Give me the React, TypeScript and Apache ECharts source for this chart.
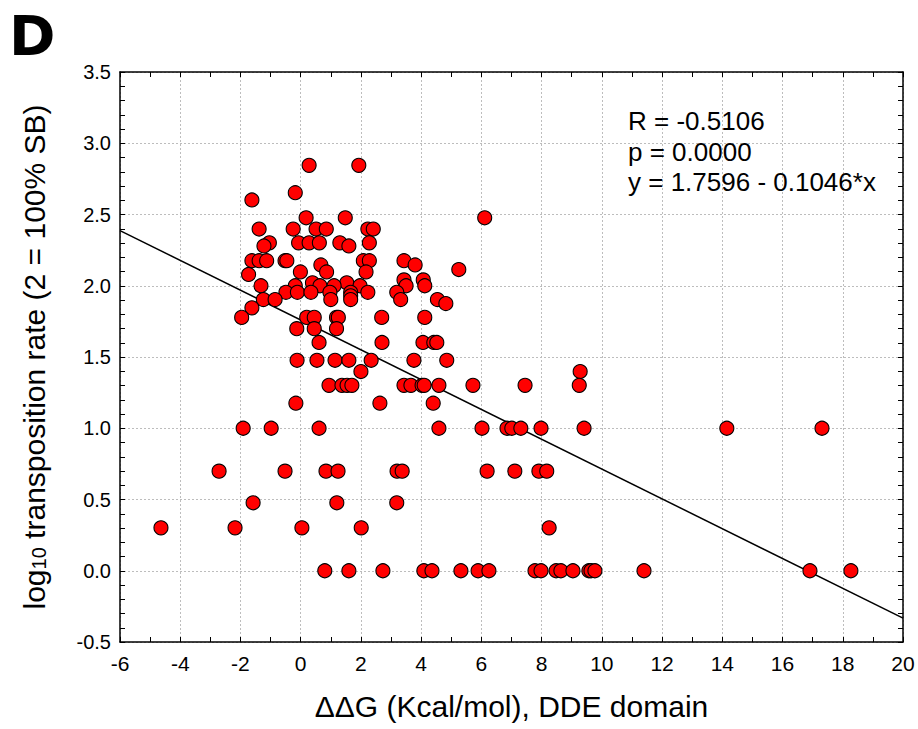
import React, { useEffect, useRef } from "react";
import * as echarts from "echarts";

// ΔΔG (kcal/mol) values, grouped by transposition-rate level
const ddG: number[] = [
  0.28, 1.93,
  -0.18,
  -1.62,
  0.18, 1.48, 6.11,
  -1.38, -0.25, 0.51, 0.85, 2.23, 2.41,
  -1.04, -0.07, 0.28, 0.62, 1.30, 2.28,
  -1.22, 1.60,
  -1.62, -1.38, -1.13, -0.52, -0.46, 2.08, 2.28, 3.43,
  3.80, 0.67,
  5.25,
  0.86, -0.01, 2.17,
  -1.73,
  3.43, 4.07,
  0.39, 1.53,
  -1.32, -0.18, 0.64, 1.11, 1.97, 3.50, 4.12,
  -0.49, -0.11, 0.34, 0.97, 1.66, 2.23, 3.19,
  1.66,
  1.00, 1.66, -1.24, -0.85, 3.32, 4.54,
  4.82,
  -1.62,
  -1.96, 0.20, 0.45, 1.19, 1.25, 2.69, 4.12,
  -0.13, 0.45, 1.19,
  0.61, 2.70, 4.06, 4.42, 4.52,
  -0.12, 0.54, 1.14, 1.60, 2.34, 3.76, 4.85,
  2.00, 9.28,
  0.94, 1.37, 1.54, 1.70, 3.43, 3.66, 4.03, 4.10, 4.59, 5.72, 7.45, 9.25,
  -0.16, 2.63, 4.40,
  -1.91, -0.98, 0.61, 4.59, 6.02, 6.85, 7.01, 7.31, 7.98, 9.41, 14.15, 17.31,
  -2.71, -0.52, 0.84, 1.24, 3.20, 3.37, 6.19, 7.11, 7.91, 8.17,
  -1.58, 1.20, 3.19,
  -4.64, -2.18, 0.04, 2.01, 8.25,
  0.80, 1.60, 2.73, 4.09, 4.36, 5.32, 5.89, 6.25, 7.78, 7.98, 8.48, 8.64, 9.04, 9.57, 9.64, 9.77, 11.40, 16.91, 18.27,
];

// log10 transposition rate, same order as ddG
const logRate: number[] = [
  2.845, 2.845,
  2.653,
  2.602,
  2.477, 2.477, 2.477,
  2.398, 2.398, 2.398, 2.398, 2.398, 2.398,
  2.301, 2.301, 2.301, 2.301, 2.301, 2.301,
  2.279, 2.279,
  2.176, 2.176, 2.176, 2.176, 2.176, 2.176, 2.176, 2.176,
  2.146, 2.146,
  2.114,
  2.097, 2.097, 2.097,
  2.079,
  2.041, 2.041,
  2.021, 2.021,
  2.0, 2.0, 2.0, 2.0, 2.0, 2.0, 2.0,
  1.954, 1.954, 1.954, 1.954, 1.954, 1.954, 1.954,
  1.929,
  1.903, 1.903, 1.903, 1.903, 1.903, 1.903,
  1.875,
  1.845,
  1.778, 1.778, 1.778, 1.778, 1.778, 1.778, 1.778,
  1.699, 1.699, 1.699,
  1.602, 1.602, 1.602, 1.602, 1.602,
  1.477, 1.477, 1.477, 1.477, 1.477, 1.477, 1.477,
  1.398, 1.398,
  1.301, 1.301, 1.301, 1.301, 1.301, 1.301, 1.301, 1.301, 1.301, 1.301, 1.301, 1.301,
  1.176, 1.176, 1.176,
  1.0, 1.0, 1.0, 1.0, 1.0, 1.0, 1.0, 1.0, 1.0, 1.0, 1.0, 1.0,
  0.699, 0.699, 0.699, 0.699, 0.699, 0.699, 0.699, 0.699, 0.699, 0.699,
  0.477, 0.477, 0.477,
  0.301, 0.301, 0.301, 0.301, 0.301,
  0, 0, 0, 0, 0, 0, 0, 0, 0, 0, 0, 0, 0, 0, 0, 0, 0, 0, 0,
];

// regression fit
const intercept = 1.7596;
const slope = -0.1046;
const xRange = [-6, 20];
const yRange = [-0.5, 3.5];
const statLines = ["R = -0.5106", "p = 0.0000", "y = 1.7596 - 0.1046*x"];

const FONT = "'Liberation Sans', Arial, sans-serif";

export default function App() {
  const ref = useRef<HTMLDivElement>(null);

  useEffect(() => {
    if (!ref.current) return;
    const chart = echarts.init(ref.current, undefined, { renderer: "svg" });
    const points = ddG.map((x, i) => [x, logRate[i]]);
    const fit = xRange.map((x) => [x, intercept + slope * x]);

    const gridLine = {
      show: true,
      lineStyle: { color: "#bdbdbd", type: [2, 2] as any, width: 1 },
    };
    const axisLine = { show: true, onZero: false, lineStyle: { color: "#000", width: 1.5 } };

    chart.setOption({
      animation: false,
      backgroundColor: "#fff",
      grid: { left: 120, top: 72, width: 783, height: 570, containLabel: false },
      xAxis: [
        {
          type: "value",
          position: "bottom",
          min: xRange[0],
          max: xRange[1],
          interval: 2,
          axisLine,
          axisTick: { show: true, inside: true, length: 5, lineStyle: { color: "#000" } },
          minorTick: { show: true, splitNumber: 2, length: 5, lineStyle: { color: "#000" } },
          splitLine: gridLine,
          axisLabel: { color: "#000", fontFamily: FONT, fontSize: 21, margin: 11 },
          name: "ΔΔG (Kcal/mol), DDE domain",
          nameLocation: "middle",
          nameGap: 49,
          nameTextStyle: { color: "#000", fontFamily: FONT, fontSize: 30 },
        },
        {
          type: "value",
          position: "top",
          min: xRange[0],
          max: xRange[1],
          interval: 1,
          axisLine,
          axisTick: { show: true, inside: true, length: 5, lineStyle: { color: "#000" } },
          splitLine: { show: false },
          axisLabel: { show: false },
        },
      ],
      yAxis: [
        {
          type: "value",
          position: "left",
          min: yRange[0],
          max: yRange[1],
          interval: 0.5,
          axisLine,
          axisTick: { show: true, inside: true, length: 5, lineStyle: { color: "#000" } },
          minorTick: { show: true, splitNumber: 5, length: 5, lineStyle: { color: "#000" } },
          splitLine: gridLine,
          axisLabel: {
            color: "#000",
            fontFamily: FONT,
            fontSize: 20,
            margin: 9,
            formatter: (v: number) => v.toFixed(1),
          },
          name: "{a|log}{s|10}{a| transposition rate (2 = 100% SB)}",
          nameLocation: "middle",
          nameRotate: 90,
          nameGap: 71,
          nameTextStyle: {
            color: "#000",
            fontFamily: FONT,
            fontSize: 30,
            rich: {
              a: { fontFamily: FONT, fontSize: 30, color: "#000", verticalAlign: "bottom", lineHeight: 36 },
              s: { fontFamily: FONT, fontSize: 20, color: "#000", verticalAlign: "bottom", lineHeight: 28 },
            },
          },
        },
        {
          type: "value",
          position: "right",
          min: yRange[0],
          max: yRange[1],
          interval: 0.5,
          axisLine,
          axisTick: { show: true, inside: true, length: 5, lineStyle: { color: "#000" } },
          minorTick: { show: true, splitNumber: 5, length: 5, lineStyle: { color: "#000" } },
          splitLine: { show: false },
          axisLabel: { show: false },
        },
      ],
      series: [
        {
          type: "line",
          data: fit,
          xAxisIndex: 0,
          yAxisIndex: 0,
          showSymbol: false,
          symbol: "none",
          lineStyle: { color: "#000", width: 1.5 },
          z: 3,
        },
        {
          type: "scatter",
          data: points,
          xAxisIndex: 0,
          yAxisIndex: 0,
          symbol: "circle",
          symbolSize: 14,
          itemStyle: { color: "#ff0000", borderColor: "#000", borderWidth: 1.1, opacity: 1 },
          z: 4,
        },
      ],
      graphic: [
        {
          type: "text",
          left: 9,
          top: 7,
          style: { text: "D", fontFamily: "'DejaVu Sans', sans-serif", fontWeight: "bold", fontSize: 56, fill: "#000" },
        },
        ...statLines.map((t, i) => ({
          type: "text",
          left: 628,
          top: 108 + i * 30.5,
          z: 10,
          style: { text: t, fontFamily: FONT, fontSize: 26, fill: "#000" },
        })),
      ],
    });

    return () => chart.dispose();
  }, []);

  return (
    <div
      ref={ref}
      style={{ position: "fixed", left: 0, top: 0, width: 918, height: 729, background: "#fff" }}
    />
  );
}
